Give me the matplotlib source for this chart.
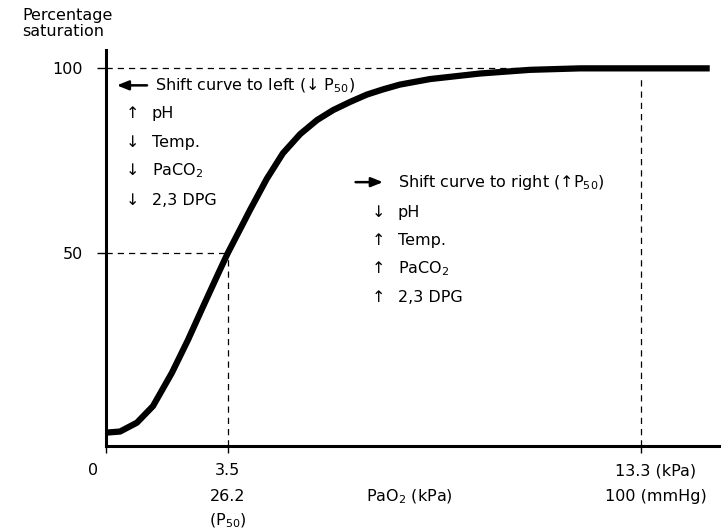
import matplotlib.pyplot as plt

plt.rcParams['font.family'] = ['DejaVu Sans']
plt.rcParams['mathtext.fontset'] = 'dejavusans'

# schematic x axis (not to scale), saturation in %
pao2 = [0, 0.35, 0.77, 1.17, 1.64, 2.04, 2.41, 2.79, 3.03, 3.41, 3.58, 4.00, 4.40,
        4.83, 5.25, 5.65, 6.07, 6.49, 6.89, 7.31, 8.06, 9.30, 10.55, 11.79, 13.3, 15.02]
sat = [1.4, 1.7, 4.1, 8.6, 17.6, 26.5, 35.4, 44.4, 50, 58.0, 61.6, 70.1, 77.0,
       82.2, 86.0, 88.7, 90.9, 92.9, 94.3, 95.6, 97.1, 98.6, 99.6, 100, 100, 100]

p50_x = 3.03
norm_x = 13.3
yticks = [50, 100]

left_items = [('↑', 'pH'), ('↓', 'Temp.'), ('↓', r'PaCO$_\mathregular{2}$'), ('↓', '2,3 DPG')]
right_items = [('↓', 'pH'), ('↑', 'Temp.'), ('↑', r'PaCO$_\mathregular{2}$'), ('↑', '2,3 DPG')]
left_rows = [87.8, 80.0, 72.4, 64.3]
right_rows = [61.1, 53.5, 45.9, 38.1]

fig = plt.figure(figsize=(7.21, 5.29), dpi=100)
ax = fig.add_axes([0.147, 0.157, 0.853, 0.748])
ax.set_xlim(0, 15.3)
ax.set_ylim(-2.2, 104.9)

ax.plot(pao2, sat, color='black', lw=4.5, solid_capstyle='butt',
        solid_joinstyle='round', zorder=3)

dash = dict(color='black', lw=0.9, ls=(0, (5, 4)))
ax.plot([0, norm_x], [100, 100], **dash)
ax.plot([0, p50_x], [50, 50], **dash)
ax.plot([p50_x, p50_x], [-2.2, 50], **dash)
ax.plot([norm_x, norm_x], [-2.2, 97.6], **dash)

for s in ['top', 'right']:
    ax.spines[s].set_visible(False)
for s in ['left', 'bottom']:
    ax.spines[s].set_linewidth(2.2)

fs = 11.5
ax.set_yticks(yticks)
ax.set_yticklabels([str(v) for v in yticks], fontsize=fs)
ax.tick_params(axis='y', length=6.5, width=1, pad=10)
ax.set_xticks([0, p50_x, norm_x])
ax.set_xticklabels([])
ax.tick_params(axis='x', length=5, width=1)

tr = ax.get_xaxis_transform()
ax.text(-0.32, -0.063, '0', transform=tr, ha='center', va='center', fontsize=fs)
ax.text(p50_x, -0.063, '3.5', transform=tr, ha='center', va='center', fontsize=fs)
ax.text(13.66, -0.063, '13.3 (kPa)', transform=tr, ha='center', va='center', fontsize=fs)
ax.text(p50_x, -0.129, '26.2', transform=tr, ha='center', va='center', fontsize=fs)
ax.text(7.54, -0.129, r'PaO$_\mathregular{2}$ (kPa)', transform=tr, ha='center', va='center', fontsize=fs)
ax.text(13.68, -0.129, '100 (mmHg)', transform=tr, ha='center', va='center', fontsize=fs)
ax.text(p50_x, -0.19, r'(P$_\mathregular{50}$)', transform=tr, ha='center', va='center', fontsize=fs)

fig.text(0.0305, 0.9716, 'Percentage', ha='left', va='center', fontsize=fs)
fig.text(0.0305, 0.941, 'saturation', ha='left', va='center', fontsize=fs)

# left shift annotation
arrow = dict(arrowstyle='-|>,head_length=0.7,head_width=0.28', color='black', lw=1.8)
ax.annotate('', xy=(0.2, 95.4), xytext=(1.09, 95.4), arrowprops=arrow)
ax.text(1.22, 95.4, r'Shift curve to left (↓ P$_\mathregular{50}$)', ha='left', va='center', fontsize=fs)
for (a, lab), y in zip(left_items, left_rows):
    ax.text(0.65, y, a, ha='center', va='center', fontsize=fs)
    ax.text(1.14, y, lab, ha='left', va='center', fontsize=fs)

# right shift annotation
ax.annotate('', xy=(6.96, 69.2), xytext=(6.14, 69.2), arrowprops=arrow)
ax.text(7.26, 69.2, r'Shift curve to right (↑P$_\mathregular{50}$)', ha='left', va='center', fontsize=fs)
for (a, lab), y in zip(right_items, right_rows):
    ax.text(6.77, y, a, ha='center', va='center', fontsize=fs)
    ax.text(7.26, y, lab, ha='left', va='center', fontsize=fs)

fig.savefig('out.png', dpi=100)
